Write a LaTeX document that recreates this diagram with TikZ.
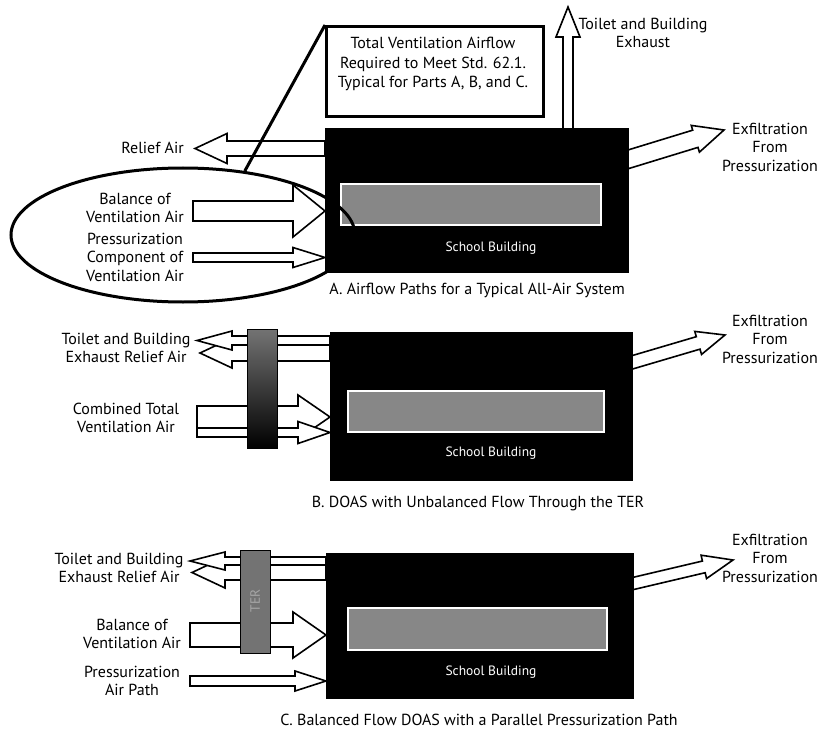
\documentclass[tikz,border=0pt]{standalone}
\usepackage{fontspec}
\setmainfont{PT Sans}
\usetikzlibrary{calc,shapes.geometric}

\newcommand\lblsize{\fontsize{16}{18.5}\selectfont}
\newcommand\bldsize{\fontsize{13.5}{15}\selectfont}
% outline block arrow: tail, tip, shaft half width, head half width, head length
\newcommand\fatarrow[5]{%
  \coordinate (fa-t) at #1;
  \coordinate (fa-h) at #2;
  \coordinate (fa-n) at ($(fa-h)!#5!(fa-t)$);
  \filldraw[fatarr] ($(fa-t)!#3!90:(fa-h)$) -- ($(fa-n)!#3!90:(fa-h)$) -- ($(fa-n)!#4!90:(fa-h)$)
    -- (fa-h) -- ($(fa-n)!#4!-90:(fa-h)$) -- ($(fa-n)!#3!-90:(fa-h)$) -- ($(fa-t)!#3!-90:(fa-h)$) -- cycle;}

\tikzset{
  bldg/.style={draw=black, fill=black, anchor=north west, inner sep=0pt},
  bar/.style={draw=white, line width=2pt, fill=black!47, anchor=north west, inner sep=0pt},
  ter/.style={draw=black, line width=1.2pt, anchor=north west, inner sep=0pt},
  fatarr/.style={draw=black, fill=white, line width=1.6pt, line join=miter},
  lbl/.style={align=center, font=\lblsize, inner sep=0pt},
  bldtext/.style={text=white, font=\bldsize, inner sep=0pt},
  callout/.style={draw=black, fill=white, line width=3pt, anchor=north west, inner sep=0pt}
}

\begin{document}
\begin{tikzpicture}[x=1pt, y=-1pt]
\useasboundingbox[fill=white] (0,0) rectangle (821,730);

% part A
\fatarrow{(325,148.5)}{(195,148.5)}{7.5pt}{15pt}{32pt}
\fatarrow{(193,211)}{(325,211)}{10pt}{26pt}{32pt}
\fatarrow{(193,257.5)}{(325,257.5)}{4.5pt}{10pt}{32pt}
\fatarrow{(568,130)}{(568,7)}{5pt}{12pt}{30pt}
\fatarrow{(626,160)}{(724,130)}{9pt}{14pt}{30pt}
\node[bldg, minimum width=303pt, minimum height=144pt] (bldA) at (325,128) {};
\node[bar, minimum width=260pt, minimum height=41pt] (barA) at (340,183) {};
\node[bldtext] (schA) at (491,248) {School Building};
\node[callout, minimum width=217pt, minimum height=90pt] (note) at (325,25) {};
\node[lbl, font=\fontsize{16}{19.5}\selectfont] (notetxt) at (433,64) {Total Ventilation Airflow\\Required to Meet Std. 62.1.\\Typical for Parts A, B, and C.};
\node[lbl, anchor=east] (reliefA) at (184,148) {Relief Air};
\node[lbl] (balA) at (135,208) {Balance of\\Ventilation Air};
\node[lbl] (pressA) at (135,257) {Pressurization\\Component of\\Ventilation Air};
\node[lbl] (exhA) at (643,33) {Toilet and Building\\Exhaust};
\node[lbl] (exfA) at (770,147) {Exfiltration\\From\\Pressurization};
\node[lbl] (capA) at (477,290) {A. Airflow Paths for a Typical All-Air System};
\node[ellipse, draw=black, line width=3pt, minimum width=344pt, minimum height=134pt] (ring) at (183,235) {};
\draw[line width=3pt] (note.north west) -- (ring.46);

% part B
\fatarrow{(330,353)}{(200,353)}{8pt}{15pt}{32pt}
\fatarrow{(330,340.5)}{(197,340.5)}{4.5pt}{9.5pt}{35pt}
\fatarrow{(197,417)}{(330,417)}{11pt}{22pt}{32pt}
\fatarrow{(197,432.5)}{(330,432.5)}{4.5pt}{11pt}{32pt}
\fatarrow{(630,363)}{(725,335)}{6.5pt}{12pt}{28pt}
\node[ter, minimum width=30pt, minimum height=119pt, top color=black!55, bottom color=black] (terB) at (247,329) {};
\node[bldg, minimum width=302pt, minimum height=148pt] (bldB) at (330,332) {};
\node[bar, minimum width=256pt, minimum height=41pt] (barB) at (347,390) {};
\node[bldtext] (schB) at (491,453) {School Building};
\node[lbl] (exhB) at (126,348) {Toilet and Building\\Exhaust Relief Air};
\node[lbl] (combB) at (126,418) {Combined Total\\Ventilation Air};
\node[lbl] (exfB) at (770,339) {Exfiltration\\From\\Pressurization};
\node[lbl] (capB) at (478,503) {B. DOAS with Unbalanced Flow Through the TER};

% part C
\fatarrow{(326,572.5)}{(192,572.5)}{7.5pt}{15.5pt}{33pt}
\fatarrow{(326,561)}{(190,561)}{4pt}{9pt}{35pt}
\fatarrow{(190,635)}{(326,635)}{12pt}{23pt}{33pt}
\fatarrow{(190,681)}{(326,681)}{5pt}{10pt}{31pt}
\fatarrow{(631,584)}{(733,560)}{6pt}{12pt}{30pt}
\node[ter, minimum width=30pt, minimum height=103pt, fill=black!55] (terC) at (240,550) {};
\node[rotate=90, text=black!35, font=\bldsize, inner sep=0pt] (terCtxt) at (255,601) {TER};
\node[bldg, minimum width=307pt, minimum height=145pt] (bldC) at (326,553) {};
\node[bar, minimum width=259pt, minimum height=42pt] (barC) at (347,607) {};
\node[bldtext] (schC) at (491,672) {School Building};
\node[lbl] (exhC) at (119,568) {Toilet and Building\\Exhaust Relief Air};
\node[lbl] (balC) at (132,634) {Balance of\\Ventilation Air};
\node[lbl] (pressC) at (132,681) {Pressurization\\Air Path};
\node[lbl] (exfC) at (770,558) {Exfiltration\\From\\Pressurization};
\node[lbl] (capC) at (479,720) {C. Balanced Flow DOAS with a Parallel Pressurization Path};
\end{tikzpicture}
\end{document}
